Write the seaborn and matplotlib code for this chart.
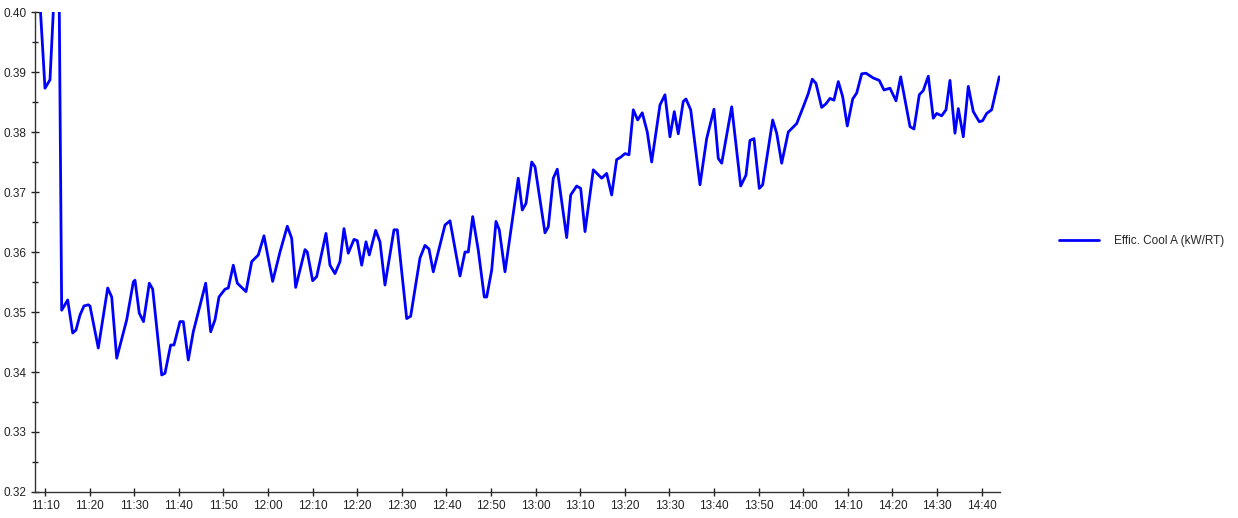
import numpy as np
import pandas as pd
import matplotlib
matplotlib.use("Agg")
import matplotlib.pyplot as plt
import matplotlib.dates as mdates
import seaborn as sns

# minutes after 11:00
minutes = [8.88, 10.0, 11.12, 11.86, 12.47, 13.21, 13.74, 15.09, 16.21, 16.95, 17.85, 18.74, 19.71, 20.09,
           21.95, 24.06, 24.96, 26.08, 28.32, 29.80, 30.18, 31.14, 32.09, 33.39, 34.15, 36.17, 36.91,
           38.18, 38.92, 40.27, 41.01, 42.13, 43.25, 46.03, 47.15, 48.12, 49.01, 50.36, 51.10, 52.22,
           53.12, 55.07, 56.35, 57.83, 59.10, 61.05, 62.69, 64.33, 65.31, 66.21, 68.30, 68.81, 70.02,
           70.92, 73.00, 73.90, 75.02, 76.14, 77.04, 78.00, 79.28, 80.02, 81.01, 81.97, 82.71, 84.15,
           85.11, 86.23, 88.25, 88.99, 91.10, 91.99, 94.08, 95.20, 96.10, 97.06, 99.69, 100.81, 103.05,
           104.17, 104.91, 105.90, 107.15, 108.50, 109.04, 110.16, 111.12, 111.86, 113.14, 114.64,
           116.12, 117.02, 117.85, 119.13, 119.87, 122.11, 122.85, 123.97, 124.86, 126.97, 127.87,
           129.21, 130.11, 131.08, 132.94, 134.82, 135.94, 137.06, 138.18, 139.08, 140.04, 140.94,
           141.91, 142.89, 143.92, 145.04, 146.03, 147.89, 149.01, 150.13, 151.10, 151.99, 153.11,
           153.72, 154.78, 156.86, 158.36, 160.00, 160.96, 161.73, 163.97, 165.99, 167.17, 168.07,
           168.97, 170.16, 170.92, 173.16, 174.06, 175.18, 176.66, 178.54, 180.02, 181.14, 182.04,
           182.87, 184.15, 185.11, 186.00, 186.90, 187.87, 188.85, 189.89, 191.10, 192.00, 193.12,
           194.08, 195.72, 197.06, 198.12, 199.46, 200.81, 201.86, 203.95, 204.84, 206.03, 206.92,
           208.05, 209.17, 209.93, 211.05, 212.02, 212.91, 214.03, 214.78, 215.90, 217.02, 218.14,
           219.49, 220.25, 221.14, 222.26, 223.96]

efficiency = [0.4015, 0.3873, 0.3887, 0.4000, 0.4120, 0.4000, 0.3503, 0.3520, 0.3465, 0.3470, 0.3495,
              0.3510, 0.3512, 0.3510, 0.3440, 0.3540, 0.3525, 0.3423, 0.3487, 0.3550, 0.3553, 0.3498,
              0.3484, 0.3548, 0.3538, 0.3395, 0.3398, 0.3445, 0.3445, 0.3484, 0.3484, 0.3420, 0.3467,
              0.3548, 0.3467, 0.3487, 0.3525, 0.3538, 0.3540, 0.3578, 0.3548, 0.3534, 0.3584, 0.3595,
              0.3627, 0.3551, 0.3600, 0.3643, 0.3623, 0.3541, 0.3604, 0.3600, 0.3552, 0.3559, 0.3631,
              0.3578, 0.3564, 0.3584, 0.3639, 0.3598, 0.3621, 0.3619, 0.3578, 0.3617, 0.3595, 0.3636,
              0.3617, 0.3545, 0.3637, 0.3637, 0.3489, 0.3493, 0.3590, 0.3611, 0.3605, 0.3567, 0.3645,
              0.3652, 0.3560, 0.3600, 0.3600, 0.3659, 0.3603, 0.3525, 0.3525, 0.3570, 0.3651, 0.3637,
              0.3567, 0.3645, 0.3723, 0.3670, 0.3681, 0.3750, 0.3742, 0.3632, 0.3642, 0.3723, 0.3738,
              0.3624, 0.3695, 0.3710, 0.3706, 0.3634, 0.3737, 0.3723, 0.3731, 0.3695, 0.3754, 0.3758,
              0.3764, 0.3762, 0.3837, 0.3820, 0.3832, 0.3800, 0.3750, 0.3845, 0.3862, 0.3792, 0.3834,
              0.3797, 0.3851, 0.3855, 0.3837, 0.3712, 0.3789, 0.3838, 0.3756, 0.3748, 0.3842, 0.3710,
              0.3728, 0.3786, 0.3789, 0.3706, 0.3712, 0.3820, 0.3798, 0.3748, 0.3800, 0.3814, 0.3842,
              0.3864, 0.3888, 0.3881, 0.3841, 0.3847, 0.3856, 0.3853, 0.3884, 0.3859, 0.3810, 0.3855,
              0.3865, 0.3897, 0.3898, 0.3890, 0.3886, 0.3870, 0.3873, 0.3852, 0.3892, 0.3809, 0.3805,
              0.3862, 0.3869, 0.3893, 0.3823, 0.3831, 0.3827, 0.3837, 0.3886, 0.3798, 0.3839, 0.3792,
              0.3876, 0.3834, 0.3817, 0.3819, 0.3831, 0.3837, 0.3892]

series_name = "Effic. Cool A (kW/RT)"
base = pd.Timestamp("2024-01-01 11:00:00")

df = pd.DataFrame({
    "time": base + pd.to_timedelta(minutes, unit="min"),
    "value": efficiency,
})

sns.set_style("white")
plt.rcParams["font.family"] = ["Liberation Sans", "DejaVu Sans"]

fig = plt.figure(figsize=(12.38, 5.18), dpi=100)
ax = fig.add_axes([35 / 1238, 1 - 492 / 518, (1000 - 35) / 1238, (492 - 12) / 518])

sns.lineplot(data=df, x="time", y="value", ax=ax, color="#0000FF", linewidth=2.0,
             label=series_name, legend=False)

ax.set_ylim(0.32, 0.40)
ax.set_xlim(base + pd.Timedelta(minutes=7.76), base + pd.Timedelta(minutes=224.13))
ax.set_xlabel("")
ax.set_ylabel("")

ax.yaxis.set_major_locator(matplotlib.ticker.MultipleLocator(0.01))
ax.yaxis.set_minor_locator(matplotlib.ticker.MultipleLocator(0.005))
ax.yaxis.set_major_formatter(matplotlib.ticker.FormatStrFormatter("%.2f"))
ax.xaxis.set_major_locator(mdates.MinuteLocator(byminute=range(0, 60, 10)))
ax.xaxis.set_major_formatter(mdates.DateFormatter("%H:%M"))

ax.tick_params(axis="both", which="major", direction="inout", length=6, width=1,
               labelsize=8.5, colors="#222222", pad=3)
ax.tick_params(axis="y", which="minor", direction="inout", length=5, width=1, colors="#222222", left=True)
ax.tick_params(axis="x", which="both", bottom=True)
ax.tick_params(axis="y", which="both", left=True)

for s in ["top", "right"]:
    ax.spines[s].set_visible(False)
for s in ["left", "bottom"]:
    ax.spines[s].set_color("#333333")
    ax.spines[s].set_linewidth(1)

handles, labels = ax.get_legend_handles_labels()
fig.legend(handles, labels, loc="center left", bbox_to_anchor=(1048 / 1238, 1 - 241 / 518),
           frameon=False, fontsize=8.5, handlelength=3.4, handletextpad=1.3)

fig.savefig("out.png", dpi=100, facecolor="white")
